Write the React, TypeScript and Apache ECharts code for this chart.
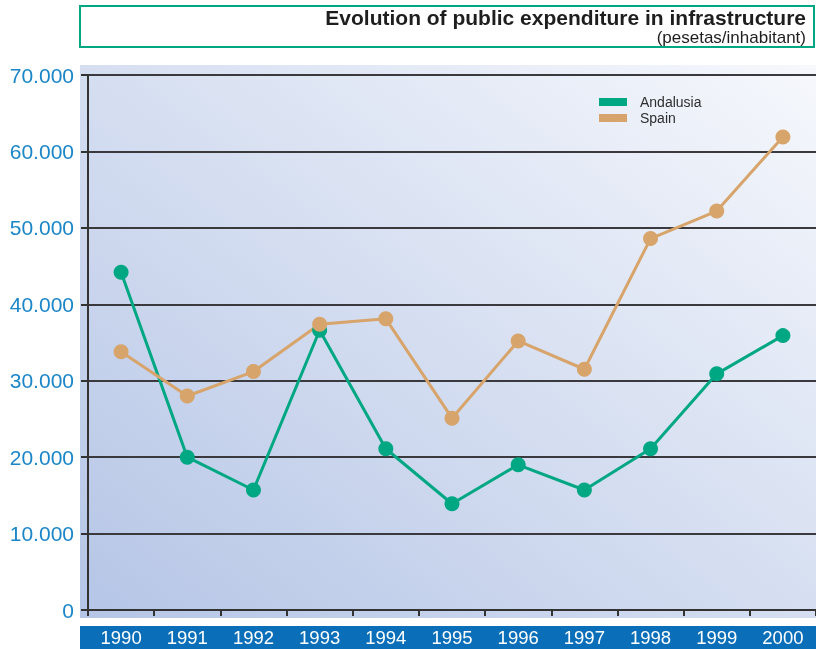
import React, { useEffect, useRef } from "react";
import * as echarts from "echarts";

const years = ["1990", "1991", "1992", "1993", "1994", "1995", "1996", "1997", "1998", "1999", "2000"];
const andalusia = [44200, 20000, 15700, 36600, 21100, 13900, 19000, 15700, 21100, 30900, 35900];
const spain = [33800, 28000, 31200, 37400, 38100, 25100, 35200, 31500, 48600, 52200, 61900];
const yTicks = [0, 10000, 20000, 30000, 40000, 50000, 60000, 70000];

const GREEN = "#00a783";
const TAN = "#d7a46b";
const FONT = "'Liberation Sans', Arial, sans-serif";

export default function App() {
  const ref = useRef<HTMLDivElement>(null);
  useEffect(() => {
    if (!ref.current) return;
    const chart = echarts.init(ref.current, null, { renderer: "svg" });
    const fmt = (v: number) => (v === 0 ? "0" : (v / 1000).toFixed(0) + ".000");
    chart.setOption({
      animation: false,
      textStyle: { fontFamily: FONT },
      graphic: [
        {
          type: "rect",
          z: -10,
          shape: { x: 80, y: 65, width: 736, height: 553 },
          style: {
            fill: new echarts.graphic.LinearGradient(0, 1, 1, 0, [
              { offset: 0, color: "#b5c5e6" },
              { offset: 1, color: "#f6f8fc" },
            ]),
          },
        },
        {
          type: "rect",
          z: -10,
          shape: { x: 80, y: 626, width: 736, height: 23 },
          style: { fill: "#0a6fb8" },
        },
        {
          type: "rect",
          shape: { x: 80, y: 6, width: 734, height: 41 },
          style: { fill: "#ffffff", stroke: GREEN, lineWidth: 2 },
        },
        {
          type: "text",
          x: 806,
          y: 17,
          style: {
            text: "Evolution of public expenditure in infrastructure",
            align: "right",
            verticalAlign: "middle",
            font: `bold 21px ${FONT}`,
            fill: "#1e1e1e",
          },
        },
        {
          type: "text",
          x: 806,
          y: 37,
          style: {
            text: "(pesetas/inhabitant)",
            align: "right",
            verticalAlign: "middle",
            font: `17px ${FONT}`,
            fill: "#1e1e1e",
          },
        },
        { type: "rect", shape: { x: 599, y: 98, width: 28, height: 8 }, style: { fill: GREEN } },
        { type: "rect", shape: { x: 599, y: 114, width: 28, height: 8 }, style: { fill: TAN } },
        {
          type: "text",
          x: 640,
          y: 102,
          style: { text: "Andalusia", verticalAlign: "middle", font: `14px ${FONT}`, fill: "#2e2e2e" },
        },
        {
          type: "text",
          x: 640,
          y: 118,
          style: { text: "Spain", verticalAlign: "middle", font: `14px ${FONT}`, fill: "#2e2e2e" },
        },
      ],
      grid: { left: 88, right: 0, top: 75, bottom: 39, containLabel: false },
      xAxis: {
        type: "category",
        data: years,
        boundaryGap: true,
        axisLine: { lineStyle: { color: "#333333", width: 2 } },
        axisTick: { show: true, length: 6, lineStyle: { color: "#333333", width: 2 } },
        axisLabel: { color: "#ffffff", fontSize: 18.5, margin: 18, fontFamily: FONT },
      },
      yAxis: {
        type: "value",
        min: yTicks[0],
        max: yTicks[yTicks.length - 1],
        interval: 10000,
        axisLine: { show: true, lineStyle: { color: "#333333", width: 2 } },
        axisTick: { show: true, length: 7, lineStyle: { color: "#333333", width: 2 } },
        splitLine: { lineStyle: { color: "#3a3a3e", width: 2 } },
        axisLabel: {
          color: "#1b86c8",
          fontSize: 21,
          margin: 14,
          fontFamily: FONT,
          formatter: fmt,
        },
      },
      series: [
        {
          name: "Andalusia",
          type: "line",
          data: andalusia,
          symbol: "circle",
          symbolSize: 15,
          lineStyle: { color: GREEN, width: 3 },
          itemStyle: { color: GREEN },
        },
        {
          name: "Spain",
          type: "line",
          data: spain,
          symbol: "circle",
          symbolSize: 15,
          lineStyle: { color: TAN, width: 3 },
          itemStyle: { color: TAN },
        },
      ],
    });
    return () => chart.dispose();
  }, []);
  return (
    <div
      ref={ref}
      style={{ position: "fixed", left: 0, top: 0, width: 816, height: 649 }}
    />
  );
}
